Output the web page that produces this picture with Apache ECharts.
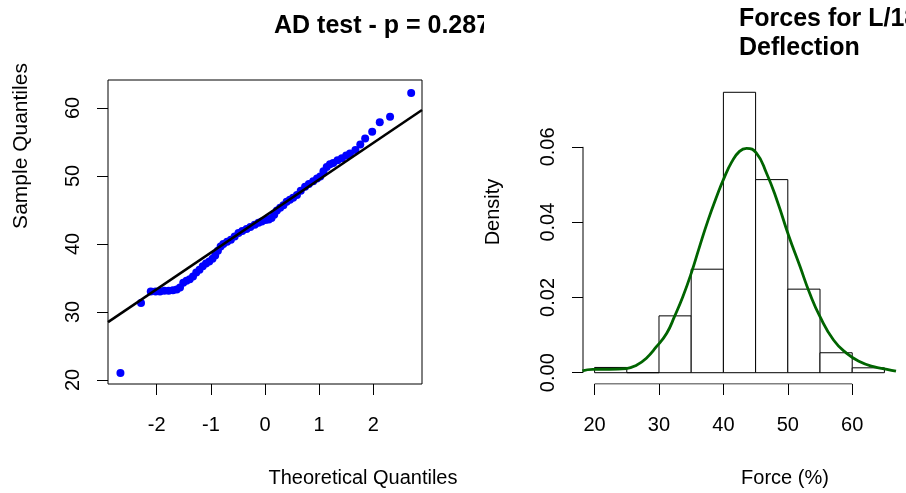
<!DOCTYPE html>
<html>
<head>
<meta charset="utf-8">
<title>QQ plot and histogram</title>
<script src="https://cdn.jsdelivr.net/npm/echarts@6/dist/echarts.min.js"></script>
<style>
  html, body { margin: 0; padding: 0; background: #fff; }
  #chart { width: 906px; height: 493px; }
</style>
</head>
<body>
<div id="chart"></div>
<script>
// left panel: normal QQ plot (theoretical, sample)
const qqPoints = [
  [-2.67, 21.0], [-2.29, 31.3], [-2.11, 33.0], [-2.02, 33.0], [-1.94, 33.0],
  [-1.86, 33.1], [-1.78, 33.1], [-1.70, 33.2], [-1.63, 33.3], [-1.57, 33.6],
  [-1.51, 34.3], [-1.45, 34.6], [-1.39, 34.8], [-1.33, 35.2], [-1.27, 35.8],
  [-1.21, 36.2], [-1.15, 36.7], [-1.09, 37.1], [-1.03, 37.4], [-0.97, 37.8],
  [-0.92, 38.3], [-0.87, 39.0], [-0.82, 39.6], [-0.77, 40.0], [-0.70, 40.3],
  [-0.63, 40.6], [-0.56, 41.1], [-0.49, 41.6], [-0.42, 41.9], [-0.34, 42.2],
  [-0.27, 42.5], [-0.19, 42.8], [-0.12, 43.1], [-0.06, 43.3], [0.01, 43.5],
  [0.07, 43.6], [0.12, 43.8], [0.17, 44.3], [0.22, 44.9], [0.28, 45.3],
  [0.34, 45.7], [0.40, 46.2], [0.46, 46.5], [0.52, 46.8], [0.59, 47.2],
  [0.66, 47.8], [0.74, 48.4], [0.81, 48.8], [0.89, 49.2], [0.96, 49.6],
  [1.02, 49.9], [1.08, 50.7], [1.14, 51.3], [1.20, 51.7], [1.26, 51.9],
  [1.34, 52.3], [1.42, 52.6], [1.50, 53.0], [1.57, 53.3], [1.67, 53.8],
  [1.76, 54.6], [1.85, 55.5], [1.98, 56.5], [2.12, 57.9], [2.31, 58.7],
  [2.70, 62.2]
];
const qqLine = [[-2.9, 28.5], [2.9, 59.7]];
const qqXTicks = [-2, -1, 0, 1, 2];
const qqYTicks = [20, 30, 40, 50, 60];

// right panel: histogram of forces (density scale) + kernel density
const binStarts = [20, 25, 30, 35, 40, 45, 50, 55, 60];
const binWidth = 5;
const densities = [0.0014, 0, 0.0151, 0.0275, 0.0745, 0.0513, 0.0222, 0.0053, 0.0013];
const densityCurve = [
  [18.1, 0.0005], [19.7, 0.0009], [22.3, 0.0009], [24.9, 0.0011], [26.5, 0.0020],
  [28.0, 0.0038], [29.6, 0.0069], [31.2, 0.0105], [32.4, 0.0149], [33.7, 0.0202],
  [35.0, 0.0264], [36.3, 0.0335], [37.6, 0.0404], [39.0, 0.0470], [40.0, 0.0513],
  [41.3, 0.0560], [42.5, 0.0588], [43.6, 0.0596], [45.1, 0.0584], [46.7, 0.0530],
  [48.3, 0.0459], [50.1, 0.0366], [51.9, 0.0282], [53.4, 0.0211], [55.0, 0.0149],
  [57.1, 0.0087], [59.1, 0.0052], [61.2, 0.0029], [63.3, 0.0016], [65.4, 0.0009],
  [66.8, 0.0004]
];
const histXTicks = [20, 30, 40, 50, 60];
const histYTicks = [0, 0.02, 0.04, 0.06];

const FONT = 'Liberation Sans, Arial, sans-serif';
const histXMin = 18.2, histXMax = 66.8;
const histYMin = -0.003, histYMax = 0.0775;

const chart = echarts.init(document.getElementById('chart'), null, { renderer: 'canvas' });

// R-like axis: no line, outward ticks only at the given values
function rAxis(gridIndex, min, max, ticks, labelExtra) {
  return {
    type: 'value', gridIndex, min, max,
    splitLine: { show: false },
    axisLine: { show: false, onZero: false },
    axisTick: { show: true, length: 11, customValues: ticks, lineStyle: { color: '#000', width: 1 } },
    axisLabel: Object.assign({ color: '#000', fontSize: 20, fontFamily: FONT, customValues: ticks }, labelExtra)
  };
}

const histRects = binStarts.map((s, i) => [s, s + binWidth, densities[i]]);

const option = {
  animation: false,
  backgroundColor: '#fff',
  grid: [
    { left: 108, top: 80, width: 314, height: 304, show: true, borderColor: '#000', borderWidth: 1,
      backgroundColor: 'transparent', outerBoundsMode: 'none' },
    { left: 583, top: 81, width: 313, height: 303, show: false, outerBoundsMode: 'none' }
  ],
  xAxis: [
    rAxis(0, -2.9, 2.9, qqXTicks, { margin: 31 }),
    rAxis(1, histXMin, histXMax, histXTicks, { margin: 31 })
  ],
  yAxis: [
    rAxis(0, 19.4, 64.1, qqYTicks, { margin: 25, rotate: 90 }),
    rAxis(1, histYMin, histYMax, histYTicks, { margin: 25, rotate: 90, formatter: v => v.toFixed(2) })
  ],
  series: [
    {
      type: 'scatter', xAxisIndex: 0, yAxisIndex: 0,
      symbolSize: 8, itemStyle: { color: '#0000ff', opacity: 1 },
      data: qqPoints, silent: true
    },
    {
      type: 'line', xAxisIndex: 0, yAxisIndex: 0,
      data: qqLine, symbol: 'none',
      lineStyle: { color: '#000', width: 2.5 }, silent: true, z: 3
    },
    {
      type: 'custom', xAxisIndex: 1, yAxisIndex: 1,
      data: histRects, silent: true,
      renderItem: (params, api) => {
        const p0 = api.coord([api.value(0), api.value(2)]);
        const p1 = api.coord([api.value(1), 0]);
        return {
          type: 'rect',
          shape: { x: p0[0], y: p0[1], width: p1[0] - p0[0], height: p1[1] - p0[1] },
          style: { fill: '#fff', stroke: '#000', lineWidth: 1 }
        };
      }
    },
    {
      type: 'line', xAxisIndex: 1, yAxisIndex: 1,
      data: densityCurve, smooth: true, symbol: 'none',
      lineStyle: { color: '#006400', width: 2.8 }, silent: true, z: 5
    },
    // axis lines of the histogram, running from first to last tick like R does
    {
      type: 'line', xAxisIndex: 1, yAxisIndex: 1, symbol: 'none', silent: true,
      data: [[histXTicks[0], histYMin], [histXTicks[histXTicks.length - 1], histYMin]],
      lineStyle: { color: '#000', width: 1 }
    },
    {
      type: 'line', xAxisIndex: 1, yAxisIndex: 1, symbol: 'none', silent: true,
      data: [[histXMin, histYTicks[0]], [histXMin, histYTicks[histYTicks.length - 1]]],
      lineStyle: { color: '#000', width: 1 }
    }
  ],
  graphic: [
    { type: 'text', left: 274, top: 14, z: 10,
      style: { text: 'AD test - p = 0.287', font: 'bold 25px ' + FONT, fill: '#000' } },
    // the left picture is cut off on its right side
    { type: 'rect', shape: { x: 484, y: 0, width: 40, height: 60 }, style: { fill: '#fff' }, z: 20 },
    { type: 'text', left: 739, top: 5, z: 10,
      style: { text: 'Forces for L/180\nDeflection', font: 'bold 25px ' + FONT, fill: '#000', lineHeight: 29 } },
    { type: 'text', x: 21, y: 146, rotation: Math.PI / 2, z: 10,
      style: { text: 'Sample Quantiles', font: '21px ' + FONT, fill: '#000', align: 'center', verticalAlign: 'middle' } },
    { type: 'text', x: 363, y: 478, z: 10,
      style: { text: 'Theoretical Quantiles', font: '20px ' + FONT, fill: '#000', align: 'center', verticalAlign: 'middle' } },
    { type: 'text', x: 493, y: 212, rotation: Math.PI / 2, z: 10,
      style: { text: 'Density', font: '20px ' + FONT, fill: '#000', align: 'center', verticalAlign: 'middle' } },
    { type: 'text', x: 785, y: 478, z: 10,
      style: { text: 'Force (%)', font: '20px ' + FONT, fill: '#000', align: 'center', verticalAlign: 'middle' } }
  ]
};

chart.setOption(option);
window.addEventListener('resize', () => chart.resize());
</script>
</body>
</html>
